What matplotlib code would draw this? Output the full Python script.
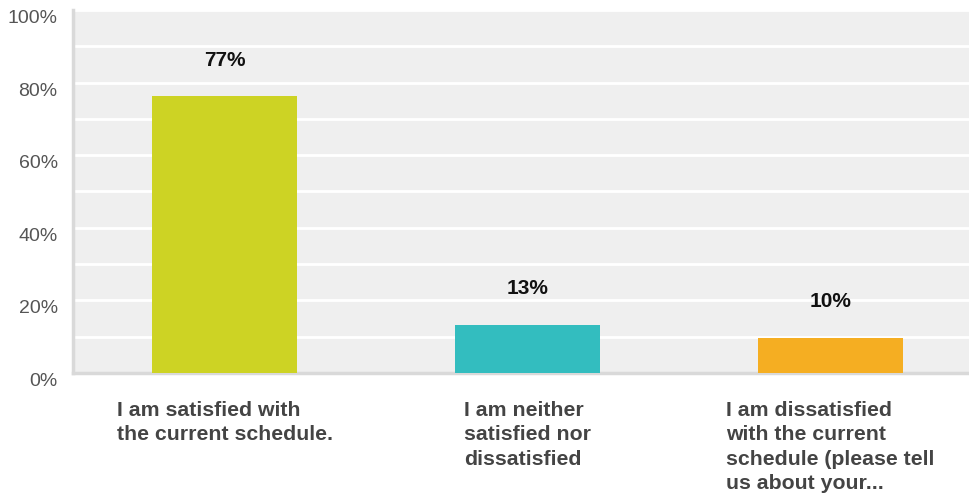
import matplotlib.pyplot as plt
import numpy as np

plt.rcParams['font.family'] = ['Liberation Sans', 'DejaVu Sans']

categories = ['I am satisfied with\nthe current schedule.',
              'I am neither\nsatisfied nor\ndissatisfied',
              'I am dissatisfied\nwith the current\nschedule (please tell\nus about your...']
values = [76.2, 13.2, 9.7]
value_labels = ['77%', '13%', '10%']
colors = ['#cdd324', '#33bdbf', '#f5ae22']
yticks = [0, 20, 40, 60, 80, 100]
ytick_labels = ['0%', '20%', '40%', '60%', '80%', '100%']

fig = plt.figure(figsize=(9.69, 4.94), dpi=100)
ax = fig.add_axes([73 / 969, 121 / 494, 1 - 73 / 969, 363 / 494])
ax.set_facecolor('#efefef')

x = np.arange(len(categories))
ax.bar(x, values, width=0.48, color=colors, zorder=3)

for xi, v, lab in zip(x, values, value_labels):
    ax.annotate(lab, (xi, v), xytext=(0, 26), textcoords='offset points',
                ha='center', va='center', fontsize=15, fontweight='bold', color='#111111')

ax.set_ylim(0, 100)
ax.set_xlim(-0.5, 2.457)
ax.set_yticks(np.arange(0, 101, 10), minor=True)
ax.set_yticks(yticks)
ax.set_yticklabels(ytick_labels, va='top', fontsize=14, color='#555555')
ax.grid(axis='y', which='both', color='white', linewidth=2, zorder=1)
ax.tick_params(axis='y', which='both', length=0, pad=11)

ax.set_xticks(x)
ax.set_xticklabels(categories, fontsize=15.3, fontweight='bold', color='#444444',
                   multialignment='left', linespacing=1.36, va='top')
ax.tick_params(axis='x', length=0, pad=20)

for side in ['top', 'right']:
    ax.spines[side].set_visible(False)
for side in ['left', 'bottom']:
    ax.spines[side].set_color('#d9d9d9')
    ax.spines[side].set_linewidth(2.5)

fig.savefig('out.png', dpi=100)
